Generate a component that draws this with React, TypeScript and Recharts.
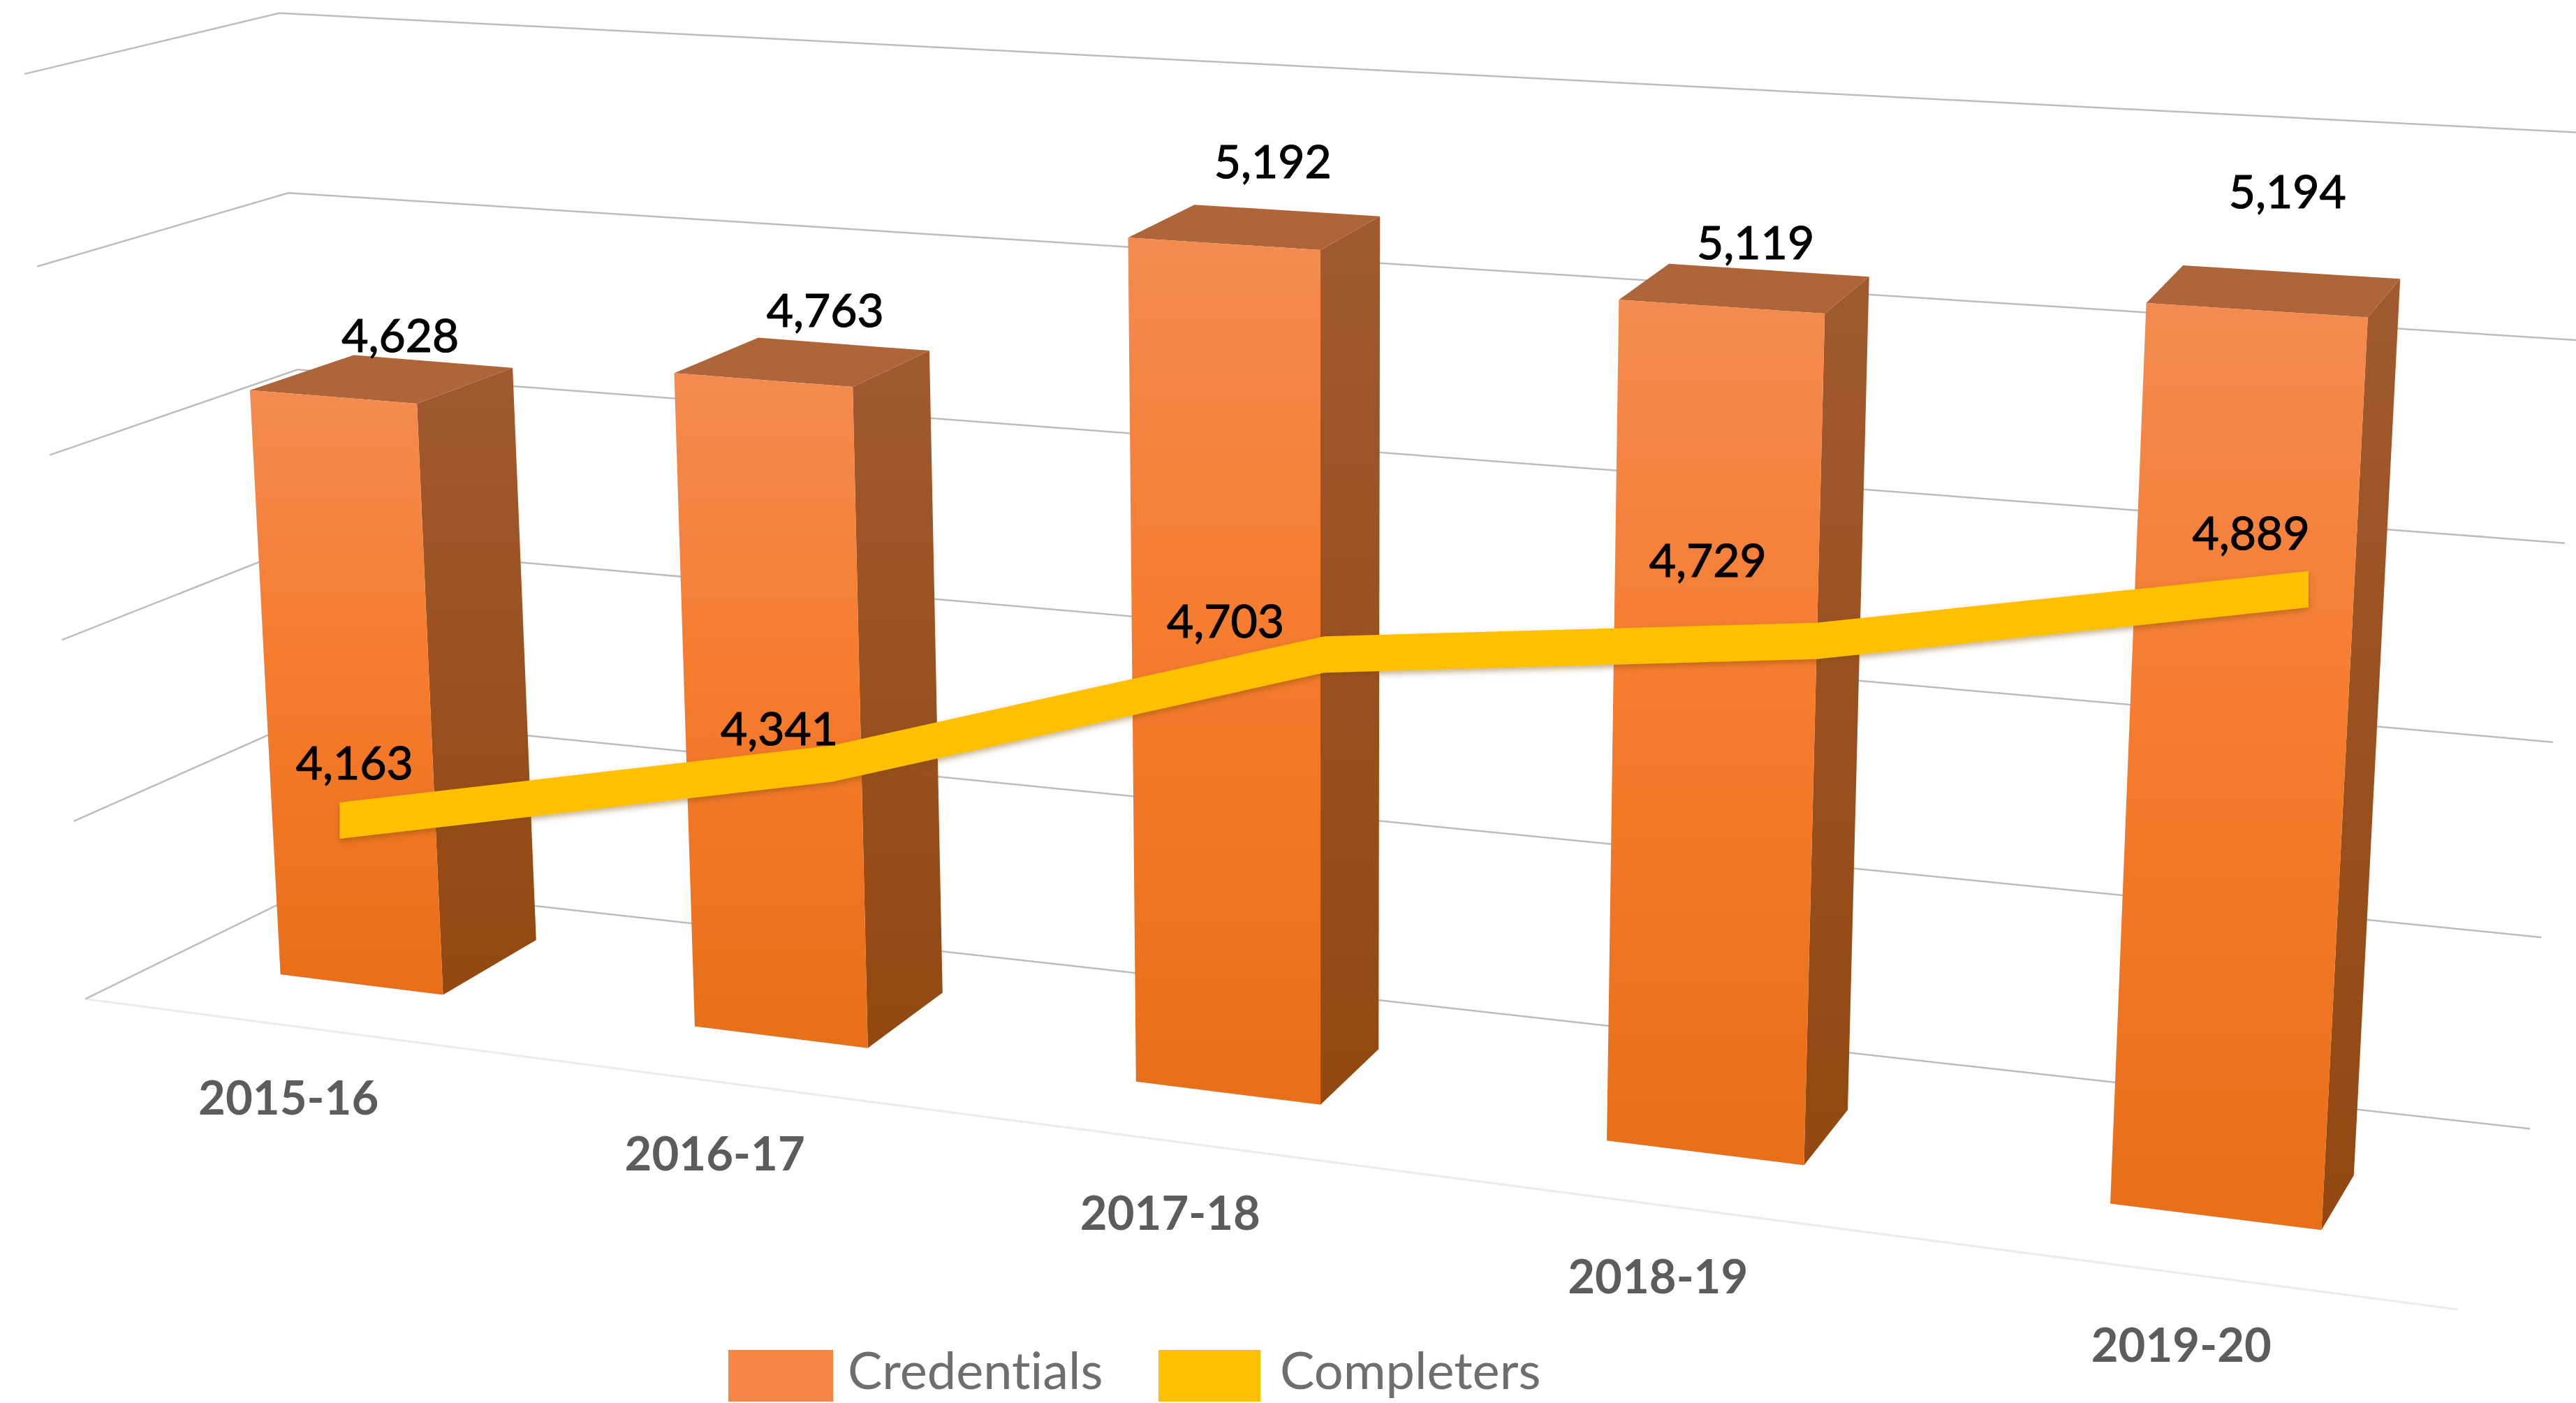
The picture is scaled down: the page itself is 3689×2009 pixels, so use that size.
import React from "react";
import { ComposedChart, Bar, Line, XAxis, YAxis, CartesianGrid, Legend, LabelList } from "recharts";

// ---- data ----
const years = ["2015-16", "2016-17", "2017-18", "2018-19", "2019-20"];
const credentials = [4628, 4763, 5192, 5119, 5194];
const completers = [4163, 4341, 4703, 4729, 4889];
const barAxisDomain = [3000, 5500];
const barAxisTicks = [3000, 3500, 4000, 4500, 5000, 5500];
const lineAxisDomain = [3500, 5500];
const legendOrder = ["Credentials", "Completers"];
const chartData = years.map((year, i) => ({ year, Credentials: credentials[i], Completers: completers[i] }));

// ---- layout: perspective planes (reference px / 2.3527) ----
const W = 3689, H = 2009, K = 3689 / 1568;
const M = 100;
const PLOT = { x: M, y: M, w: W - 2 * M, h: H - 2 * M };
type P = [number, number];
function plane(bl: P, br: P, tr: P, tl: P) {
  const [x0, y0] = bl.map((v) => v * K), [x1, y1] = br.map((v) => v * K), [x2, y2] = tr.map((v) => v * K), [x3, y3] = tl.map((v) => v * K);
  const sx = x0 - x1 + x2 - x3, sy = y0 - y1 + y2 - y3;
  const dx1 = x1 - x2, dx2 = x3 - x2, dy1 = y1 - y2, dy2 = y3 - y2;
  const den = dx1 * dy2 - dx2 * dy1;
  const g = (sx * dy2 - dx2 * sy) / den, h = (dx1 * sy - sx * dy1) / den;
  const a = x1 - x0 + g * x1, b = x3 - x0 + h * x3, d = y1 - y0 + g * y1, e = y3 - y0 + h * y3;
  return (t: number, f: number): P => {
    const w = g * t + h * f + 1;
    return [(a * t + b * f + x0) / w, (d * t + e * f + y0) / w];
  };
}
const barFront = plane([98, 584], [1512, 761], [1550, 117.5], [66, 34]);
const barBack = plane([163, 551], [1530, 728], [1568, 95], [134, 20]);
const backWall = plane([197, 537], [1540, 687], [1576, 81], [170, 8]);
const frontWall = plane([52, 608], [1496, 797], [1540, 134], [15, 45]);
const linePlane = plane([57, 616], [1555, 597], [1555, 251], [57, 270]);

const toT = (x: number) => (x - PLOT.x) / PLOT.w;
const toF = (y: number) => 1 - (y - PLOT.y) / PLOT.h;
const pts = (a: P[]) => a.map((p) => p.join(",")).join(" ");

const barLabelOffset: P[] = [[41, -38], [38, -43], [30, -51], [21, -40], [19, -73]];
const lineLabelOffset: P[] = [[9, -36], [-32, -22], [-60, -21], [-66, -50], [-35, -35]];
const RIBBON = 52;
const FONT = "Lato, 'Open Sans', sans-serif";
const swatch: Record<string, string> = { Credentials: "#F58545", Completers: "#FFC000" };

function Box3D(props: any) {
  const { x, y, width, height } = props;
  const t0 = toT(x), t1 = toT(x + width), f = toF(y), fb = toF(y + height);
  const FL = barFront(t0, fb), FR = barFront(t1, fb), TL = barFront(t0, f), TR = barFront(t1, f);
  const BR = barBack(t1, fb), BTR = barBack(t1, f), BTL = barBack(t0, f);
  return (
    <g>
      <polygon points={pts([FR, BR, BTR, TR])} fill="url(#barSide)" />
      <polygon points={pts([TL, TR, BTR, BTL])} fill="#AE653A" />
      <polygon points={pts([FL, FR, TR, TL])} fill="url(#barFront)" />
    </g>
  );
}

function GridLine(props: any) {
  const f = toF(props.y1);
  const a = frontWall(0, f), b = backWall(0, f), c = backWall(1, f);
  return (
    <g key={props.key}>
      {f < 0.001 ? <line x1={frontWall(0, 0)[0]} y1={frontWall(0, 0)[1]} x2={frontWall(1, 0)[0]} y2={frontWall(1, 0)[1]} stroke="#ECECEC" strokeWidth={3} /> : null}
      <polyline points={pts([a, b, c])} fill="none" stroke="#BDBDBD" strokeWidth={2.5} />
    </g>
  );
}

function YearTick(props: any) {
  const [px, py] = frontWall(toT(props.x), 0);
  return (
    <text x={px} y={py + 43 * K} textAnchor="middle" dominantBaseline="central" fontFamily={FONT} fontSize={67} fontWeight={700} fill="#5C5C5C">
      {props.payload.value}
    </text>
  );
}

function RibbonDot(props: any) {
  if (props.index !== 0) return <g key={props.key} />;
  const c: P[] = props.points.map((p: any) => linePlane(toT(p.x), toF(p.y)));
  const top = c.map(([x, y]) => [x, y - RIBBON / 2] as P);
  const bottom = c.map(([x, y]) => [x, y + RIBBON / 2] as P).reverse();
  return <polygon key={props.key} points={pts([...top, ...bottom])} fill="#FFC000" filter="url(#ribbonShadow)" />;
}

function BarLabel(props: any) {
  const { x, y, width, value, index } = props;
  const [px, py] = barFront(toT(x + width / 2), toF(y));
  return (
    <text x={px + barLabelOffset[index][0] * K} y={py + barLabelOffset[index][1] * K} textAnchor="middle" dominantBaseline="central" fontFamily={FONT} fontSize={66} fill="#000" stroke="#000" strokeWidth={1.2}>
      {Number(value).toLocaleString("en-US")}
    </text>
  );
}

function LineLabel(props: any) {
  const { x, y, value, index } = props;
  const [px, py] = linePlane(toT(x), toF(y));
  return (
    <text x={px + lineLabelOffset[index][0] * K} y={py + lineLabelOffset[index][1] * K} textAnchor="middle" dominantBaseline="central" fontFamily={FONT} fontSize={66} fill="#000" stroke="#000" strokeWidth={1.2}>
      {Number(value).toLocaleString("en-US")}
    </text>
  );
}

function LegendContent() {
  const lefts = [1043, 1659];
  return (
    <div>
      {legendOrder.map((name, i) => (
        <div key={name} style={{ position: "absolute", left: lefts[i], top: 0, display: "flex", alignItems: "center", height: 74 }}>
          <div style={{ width: i === 0 ? 150 : 146, height: 74, background: swatch[name] }} />
          <div style={{ marginLeft: i === 0 ? 21 : 28, height: 74, marginTop: -18, fontFamily: FONT, fontSize: 74, lineHeight: "74px", fontVariantLigatures: "none", color: "#6E6E6E", whiteSpace: "nowrap" }}>{name}</div>
        </div>
      ))}
    </div>
  );
}

export default function App() {
  return (
    <div style={{ position: "fixed", left: 0, top: 0, width: W, height: H, background: "#fff", overflow: "hidden" }}>
      <ComposedChart width={W} height={H} data={chartData} margin={{ top: M, right: M, bottom: M - 1, left: M }} barCategoryGap="30%">
        <defs>
          <linearGradient id="barFront" x1="0" y1="0" x2="0" y2="1">
            <stop offset="0" stopColor="#F38B50" />
            <stop offset="0.45" stopColor="#F67C2E" />
            <stop offset="1" stopColor="#E86F18" />
          </linearGradient>
          <linearGradient id="barSide" x1="0" y1="0" x2="0" y2="1">
            <stop offset="0" stopColor="#A15A30" />
            <stop offset="1" stopColor="#924810" />
          </linearGradient>
          <filter id="ribbonShadow" x="-5%" y="-20%" width="110%" height="140%">
            <feDropShadow dx="0" dy="4" stdDeviation="4" floodColor="#7A4A10" floodOpacity="0.45" />
          </filter>
        </defs>
        <CartesianGrid yAxisId="bars" vertical={false} horizontal={GridLine} />
        <XAxis dataKey="year" height={1} axisLine={false} tickLine={false} tick={YearTick} interval={0} />
        <YAxis yAxisId="bars" hide domain={barAxisDomain} ticks={barAxisTicks} />
        <YAxis yAxisId="line" hide domain={lineAxisDomain} orientation="right" />
        <Bar yAxisId="bars" dataKey="Credentials" fill={swatch.Credentials} shape={Box3D} isAnimationActive={false}>
          <LabelList dataKey="Credentials" content={BarLabel} />
        </Bar>
        <Line yAxisId="line" dataKey="Completers" stroke={swatch.Completers} strokeWidth={0} dot={RibbonDot} activeDot={false} isAnimationActive={false}>
          <LabelList dataKey="Completers" content={LineLabel} />
        </Line>
        <Legend layout="horizontal" verticalAlign="middle" content={LegendContent} wrapperStyle={{ position: "absolute", left: 0, top: 1933, width: W, height: 74 }} />
      </ComposedChart>
    </div>
  );
}
